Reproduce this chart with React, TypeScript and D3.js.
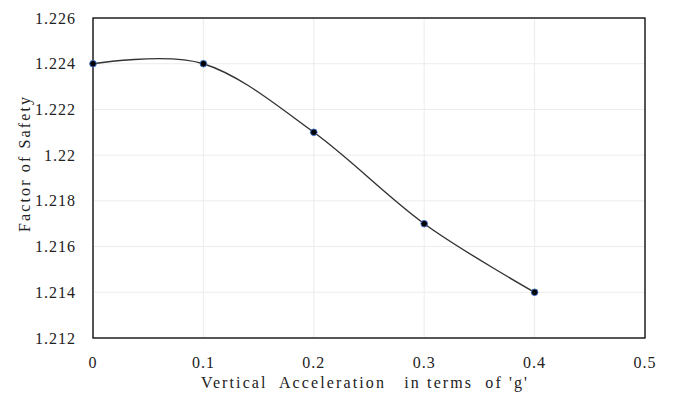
import React, { useRef, useEffect } from 'react';
import * as d3 from 'd3';

const accel = [0, 0.1, 0.2, 0.3, 0.4];
const fos = [1.224, 1.224, 1.221, 1.217, 1.214];
const xTicks = [0, 0.1, 0.2, 0.3, 0.4, 0.5];
const yTicks = [1.212, 1.214, 1.216, 1.218, 1.22, 1.222, 1.224, 1.226];

function App() {
    const ref = useRef<SVGSVGElement>(null);

    useEffect(() => {
        const W = 674, H = 396;
        const margin = { top: 18, right: 29, bottom: 58, left: 93 };
        const width = W - margin.left - margin.right;
        const height = H - margin.top - margin.bottom;

        const svg = d3.select(ref.current);
        svg.selectAll('*').remove();

        const g = svg.append('g')
            .attr('transform', 'translate(' + margin.left + ',' + margin.top + ')');

        const x = d3.scaleLinear().domain([0, 0.5]).range([0, width]);
        const y = d3.scaleLinear().domain([1.212, 1.226]).range([height, 0]);

        // grid
        g.selectAll('.hgrid')
            .data(yTicks)
            .enter().append('line')
            .attr('x1', 0).attr('x2', width)
            .attr('y1', d => y(d)).attr('y2', d => y(d))
            .attr('stroke', '#ececec').attr('stroke-width', 1);
        g.selectAll('.vgrid')
            .data(xTicks)
            .enter().append('line')
            .attr('x1', d => x(d)).attr('x2', d => x(d))
            .attr('y1', 0).attr('y2', height)
            .attr('stroke', '#ececec').attr('stroke-width', 1);

        // frame
        g.append('rect')
            .attr('width', width).attr('height', height)
            .attr('fill', 'none').attr('stroke', '#000').attr('stroke-width', 1.3);

        const font = "'Liberation Serif', 'DejaVu Serif', serif";

        g.selectAll('.xlab')
            .data(xTicks)
            .enter().append('text')
            .attr('x', d => x(d))
            .attr('y', height + 30)
            .attr('text-anchor', 'middle')
            .style('font-family', font).style('font-size', '16px').style('letter-spacing', '1px')
            .attr('fill', '#222')
            .text(d => d3.format('')(d));

        g.selectAll('.ylab')
            .data(yTicks)
            .enter().append('text')
            .attr('x', -17)
            .attr('y', d => y(d) + 5.5)
            .attr('text-anchor', 'end')
            .style('font-family', font).style('font-size', '16px').style('letter-spacing', '1px')
            .attr('fill', '#222')
            .text(d => d3.format('')(d));

        svg.append('text')
            .attr('x', 201)
            .attr('y', 388)
            .style('font-family', font).style('font-size', '16px')
            .attr('textLength', 326).attr('lengthAdjust', 'spacing')
            .style('white-space', 'pre')
            .attr('fill', '#222')
            .text("Vertical  Acceleration   in terms  of 'g'");

        svg.append('text')
            .attr('transform', 'translate(30,232) rotate(-90)')
            .style('font-family', font).style('font-size', '16px')
            .attr('textLength', 135).attr('lengthAdjust', 'spacing')
            .attr('fill', '#222')
            .text('Factor of Safety');

        const pts = accel.map((a, i) => [a, fos[i]] as [number, number]);
        const line = d3.line<[number, number]>()
            .x(d => x(d[0]))
            .y(d => y(d[1]))
            .curve(d3.curveCatmullRom.alpha(0));

        g.append('path')
            .datum(pts)
            .attr('d', line)
            .attr('fill', 'none')
            .attr('stroke', '#333')
            .attr('stroke-width', 1.4);

        g.selectAll('.dot')
            .data(pts)
            .enter().append('circle')
            .attr('cx', d => x(d[0]))
            .attr('cy', d => y(d[1]))
            .attr('r', 3.3)
            .attr('fill', '#000')
            .attr('stroke', '#3d6fc4')
            .attr('stroke-width', 1);
    }, []);

    return (
        <svg ref={ref} width={674} height={396}
            style={{ position: 'fixed', left: 0, top: 0, background: '#fff' }} />
    );
}

export default App;
